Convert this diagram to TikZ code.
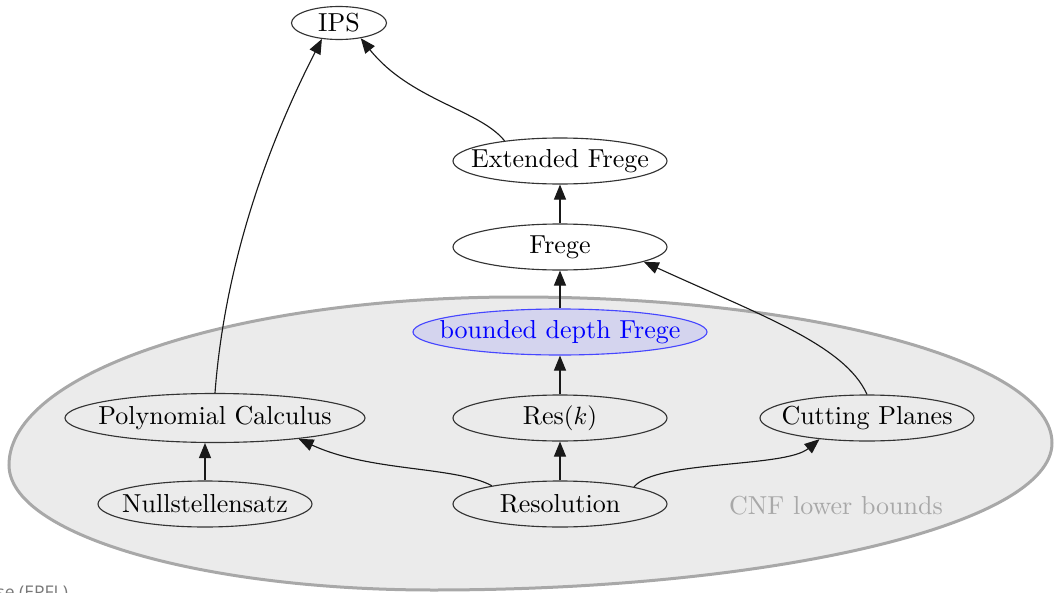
\documentclass[tikz,border=0pt]{standalone}
\usepackage{fontspec}
\newfontfamily\uisans{Open Sans}
\usetikzlibrary{shapes.geometric,arrows.meta}
\definecolor{regionfill}{RGB}{235,235,235}
\definecolor{regionline}{RGB}{168,168,168}
\definecolor{bdfill}{RGB}{212,212,238}
\definecolor{bdline}{RGB}{70,70,255}
\definecolor{footgray}{RGB}{120,120,120}
\tikzset{
  gnode/.style={ellipse, draw=black!80, line width=0.45pt, inner xsep=-8pt, inner ysep=0pt,
    minimum width=85.6pt, minimum height=18.4pt, font=\fontsize{10.4}{12}\selectfont},
  bdnode/.style={gnode, draw=bdline, fill=bdfill, text=blue},
  edge/.style={draw=black!90, line width=0.45pt, -{Triangle[length=6pt,width=4.8pt]}},
  region/.style={draw=regionline, fill=regionfill, line width=1.2pt},
  regionlabel/.style={text=regionline, font=\fontsize{10.4}{12}\selectfont},
}
\begin{document}
\begin{tikzpicture}[x=0.4pt,y=-0.4pt]
\useasboundingbox (0,0) rectangle (1054,593);
\clip (0,0) rectangle (1054,593);
% CNF lower bounds region
\path[region] (9,465) .. controls (9,372) and (236,297) .. (517,297)
  .. controls (812,297) and (1052,362) .. (1052,443)
  .. controls (1052,524) and (775,590) .. (433,590)
  .. controls (199,590) and (9,534) .. (9,465) -- cycle;
\node[regionlabel] (cnf) at (836,506) {CNF lower bounds};
% nodes
\node[gnode, minimum width=38pt, minimum height=13.2pt] (ips) at (339,23) {IPS};
\node[gnode] (ef) at (560,161) {Extended Frege};
\node[gnode] (frege) at (560,247) {Frege};
\node[bdnode, minimum width=117.6pt] (bdf) at (560,332) {bounded depth Frege};
\node[gnode, minimum width=120pt, minimum height=19.6pt] (pc) at (215,418) {Polynomial Calculus};
\node[gnode] (resk) at (560,418) {Res$(k)$};
\node[gnode] (cp) at (867,418) {Cutting Planes};
\node[gnode] (null) at (205,504) {Nullstellensatz};
\node[gnode] (resol) at (560,504) {Resolution};
% edges
\draw[edge] (null.north) -- (null.north |- pc.-112);
\draw[edge] (resol) -- (resk);
\draw[edge] (resk) -- (bdf);
\draw[edge] (bdf) -- (frege);
\draw[edge] (frege) -- (ef);
\draw[edge] (resol.165) .. controls (455,466) and (370,472) .. (pc.-14);
\draw[edge] (resol.13) .. controls (655,460) and (785,468) .. (cp.204);
\draw[edge] (cp.north) .. controls (845,345) and (760,315) .. (frege.-10);
\draw[edge] (ef.160) .. controls (480,110) and (410,100) .. (ips.-35);
\draw[edge] (pc.north) .. controls (225,260) and (270,140) .. (ips.-137);
% footer fragment
\node[anchor=base west, inner sep=0pt, text=footgray, font=\uisans\fontsize{7}{8}\selectfont] (foot) at (-4,598) {se (EPFL)};
\end{tikzpicture}
\end{document}
